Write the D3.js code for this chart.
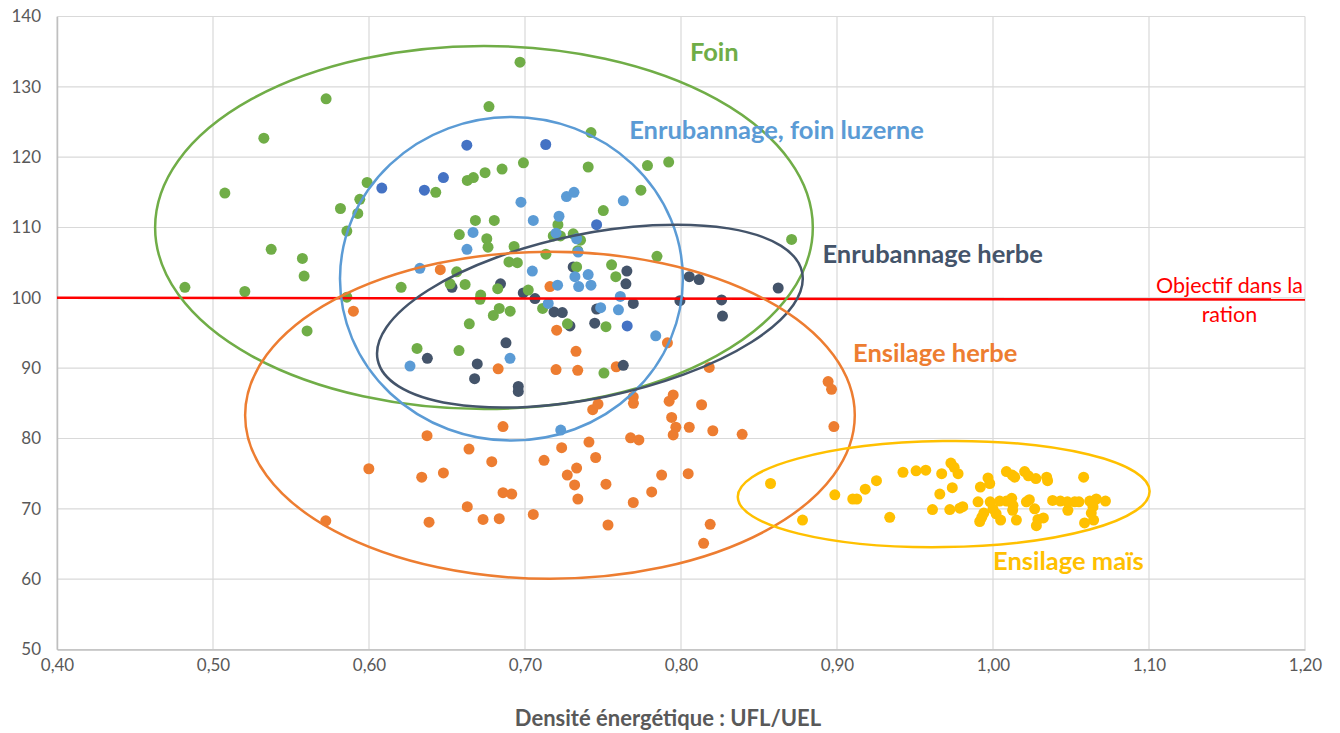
<!DOCTYPE html>
<html>
<head>
<meta charset="utf-8">
<script src="https://cdn.jsdelivr.net/npm/d3@7"></script>
<style>
  body { margin: 0; background: #fff; }
  svg { display: block; font-family: Lato, "Open Sans", sans-serif; }
</style>
</head>
<body>
<svg id="chart"></svg>
<script>
// values: [UFL/UEL, y]
const foin = [
  [0.5725,128.3],[0.5326,122.7],[0.5076,114.9],[0.5373,106.9],[0.5573,105.6],[0.5584,103.1],
  [0.4820,101.5],[0.5204,100.9],[0.5817,112.7],[0.5941,114.0],[0.5988,116.4],[0.5928,112.0],
  [0.5858,109.5],[0.6428,115.0],[0.6206,101.5],[0.5858,100.1],[0.5603,95.3],[0.6579,109.0],
  [0.6562,103.7],[0.6520,102.0],[0.6630,116.7],[0.6669,117.1],[0.6744,117.8],[0.6853,118.3],
  [0.6990,119.2],[0.6682,111.0],[0.6803,111.0],[0.6755,108.4],[0.6763,107.2],[0.6930,107.3],
  [0.6897,105.1],[0.6951,105.0],[0.6968,133.5],[0.6769,127.2],[0.7423,123.5],[0.7405,118.6],
  [0.7785,118.8],[0.7921,119.3],[0.7743,115.3],[0.7502,112.4],[0.7211,110.4],[0.7181,108.8],
  [0.7227,108.8],[0.7309,109.1],[0.7356,108.2],[0.7134,106.2],[0.7338,106.7],[0.7846,105.9],
  [0.7331,104.4],[0.7555,104.7],[0.7582,103.0],[0.6616,101.9],[0.6825,101.3],[0.7021,101.1],
  [0.6716,100.4],[0.6712,99.8],[0.7113,98.5],[0.6835,98.5],[0.6797,97.5],[0.6905,98.1],
  [0.6643,96.3],[0.7272,96.3],[0.7519,95.9],[0.6308,92.8],[0.6577,92.5],[0.7506,89.3],
  [0.8709,108.3]
];

const enrubannage = [
  [0.6326,104.2],[0.6974,113.6],[0.7053,111.0],[0.6667,109.3],[0.6628,106.9],[0.7047,103.8],
  [0.7266,114.4],[0.7314,115.0],[0.7630,113.8],[0.7218,111.6],[0.7199,109.2],[0.7331,108.4],
  [0.7341,106.5],[0.7320,103.0],[0.7405,103.3],[0.7344,101.6],[0.7423,101.8],[0.7209,101.8],
  [0.7611,100.2],[0.7149,99.2],[0.7485,98.6],[0.7599,98.3],[0.7838,94.6],[0.6904,91.4],
  [0.6263,90.3],[0.7229,81.2]
];

const foinLuzerne = [
  [0.6082,115.6],[0.6355,115.3],[0.6477,117.1],[0.6627,121.7],[0.7133,121.8],[0.7459,110.4],
  [0.7655,96.0]
];

const enrubannageHerbe = [
  [0.6532,101.5],[0.6843,102.0],[0.6989,100.7],[0.7064,99.9],[0.7309,104.4],[0.7653,103.8],
  [0.7647,102.0],[0.8053,103.0],[0.8116,102.6],[0.8623,101.4],[0.7694,99.2],[0.7993,99.6],
  [0.8260,99.7],[0.8266,97.4],[0.7186,98.0],[0.7239,97.9],[0.7459,98.4],[0.7288,96.0],
  [0.7447,96.4],[0.6878,93.6],[0.6374,91.4],[0.6694,90.6],[0.6677,88.5],[0.6957,87.4],
  [0.6957,86.7],[0.7630,90.4]
];

const ensilageHerbe = [
  [0.6457,104.0],[0.5900,98.1],[0.7160,101.6],[0.7203,95.4],[0.7913,93.6],[0.7327,92.4],
  [0.7199,89.8],[0.7338,89.7],[0.6828,89.9],[0.7585,90.2],[0.8181,90.1],[0.8943,88.1],
  [0.8965,87.0],[0.8980,81.7],[0.7434,84.1],[0.7468,84.9],[0.7694,85.9],[0.7695,85.0],
  [0.7924,85.3],[0.7950,86.2],[0.8132,84.8],[0.7940,83.0],[0.7967,81.6],[0.7950,80.5],
  [0.8053,81.6],[0.8204,81.1],[0.8392,80.6],[0.6859,81.7],[0.6641,78.5],[0.6787,76.7],
  [0.6477,75.1],[0.7122,76.9],[0.7235,78.7],[0.7410,79.5],[0.7453,77.3],[0.7331,75.8],
  [0.7271,74.8],[0.7318,73.4],[0.7339,71.4],[0.7519,73.5],[0.7677,80.1],[0.7730,79.8],
  [0.7876,74.8],[0.8046,75.0],[0.7812,72.4],[0.7694,70.9],[0.6859,72.3],[0.6915,72.1],
  [0.6630,70.3],[0.6731,68.5],[0.6835,68.6],[0.7053,69.2],[0.7532,67.7],[0.8187,67.8],
  [0.8145,65.1],[0.6372,80.4],[0.5999,75.7],[0.6338,74.5],[0.5723,68.3],[0.6385,68.1]
];

const ensilageMais = [
  [0.8574,73.6],[0.8779,68.4],[0.8986,72.0],[0.9101,71.4],[0.9127,71.4],[0.9181,72.8],
  [0.9253,74.0],[0.9338,68.8],[0.9423,75.2],[0.9507,75.4],[0.9569,75.5],[0.9612,69.9],
  [0.9659,72.1],[0.9671,75.0],[0.9730,76.5],[0.9751,75.9],[0.9776,75.0],[0.9739,73.0],
  [0.9723,69.9],[0.9787,70.1],[0.9806,70.3],[0.9904,71.0],[0.9919,73.1],[0.9968,74.4],
  [0.9979,73.6],[0.9915,68.2],[0.9928,68.8],[0.9941,69.4],[0.9982,71.0],[1.0000,70.0],
  [1.0020,69.3],[1.0049,68.4],[1.0043,71.1],[1.0086,71.1],[1.0120,71.5],[1.0128,70.5],
  [1.0126,69.8],[1.0150,68.4],[1.0086,75.3],[1.0123,74.8],[1.0139,74.5],[1.0203,75.3],
  [1.0227,74.7],[1.0275,74.3],[1.0344,74.5],[1.0350,74.0],[1.0581,74.5],[1.0214,71.0],
  [1.0233,71.3],[1.0267,70.0],[1.0288,68.5],[1.0323,68.7],[1.0278,67.6],[1.0382,71.2],
  [1.0432,71.1],[1.0477,71.0],[1.0524,71.0],[1.0551,71.0],[1.0480,69.8],[1.0620,71.1],
  [1.0662,71.4],[1.0721,71.1],[1.0641,70.3],[1.0630,69.4],[1.0587,68.0],[1.0645,68.4]
];

// objectif line
const objectif = [[0.40, 100.0], [1.20, 99.75]];

// ellipses: centre, half-width (UFL/UEL), half-height (y units), tilt in degrees
const groups = ["Foin", "Enrubannage, foin luzerne", "Enrubannage herbe", "Ensilage herbe", "Ensilage maïs"];
const ellipseCx = [0.6737, 0.6913, 0.7416, 0.7160, 0.9684];
const ellipseCy = [110.0, 102.7, 97.4, 83.3, 72.1];
const ellipseRx = [0.2108, 0.1099, 0.1389, 0.1954, 0.1320];
const ellipseRy = [25.8, 23.0, 11.66, 23.25, 7.54];
const ellipseTilt = [0, 0, -11.65, 0, -0.8];

const xTicks = [0.40, 0.50, 0.60, 0.70, 0.80, 0.90, 1.00, 1.10, 1.20];
const yTicks = [50, 60, 70, 80, 90, 100, 110, 120, 130, 140];

const W = 1340, H = 733;
const margin = { top: 16.5, right: 35, bottom: 83.5, left: 57 };

const svg = d3.select("#chart").attr("width", W).attr("height", H);

const x = d3.scaleLinear().domain([0.40, 1.20]).range([margin.left, W - margin.right]);
const y = d3.scaleLinear().domain([50, 140]).range([H - margin.bottom, margin.top]);

const grid = svg.append("g").attr("class", "grid");
grid.selectAll(".vg").data(xTicks).enter().append("line")
  .attr("x1", d => x(d)).attr("x2", d => x(d))
  .attr("y1", y(50)).attr("y2", y(140))
  .attr("stroke", "#d9d9d9").attr("stroke-width", 1.2);
grid.selectAll(".hg").data(yTicks).enter().append("line")
  .attr("x1", x(0.40)).attr("x2", x(1.20))
  .attr("y1", d => y(d)).attr("y2", d => y(d))
  .attr("stroke", "#d9d9d9").attr("stroke-width", 1.2);

const fmtX = d => d3.format(".2f")(d).replace(".", ",");

const xAxis = svg.append("g")
  .attr("transform", `translate(0,${y(50)})`)
  .call(d3.axisBottom(x).tickValues(xTicks).tickSize(0).tickPadding(9).tickFormat(fmtX));
const yAxis = svg.append("g")
  .attr("transform", `translate(${x(0.40)},0)`)
  .call(d3.axisLeft(y).tickValues(yTicks).tickSize(0).tickPadding(16).tickFormat(d3.format("d")));

[xAxis, yAxis].forEach(a => {
  a.select(".domain").attr("stroke", "#bfbfbf").attr("stroke-width", 1.5);
  a.selectAll("text").attr("fill", "#595959").attr("font-size", 17)
    .attr("font-family", "Lato, sans-serif");
});

svg.append("text")
  .attr("x", 668).attr("y", 726)
  .attr("text-anchor", "middle")
  .attr("fill", "#595959").attr("font-weight", "bold").attr("font-size", 22)
  .text("Densité énergétique : UFL/UEL");

// points
const series = [
  { data: ensilageHerbe, color: "#ed7d31" },
  { data: enrubannageHerbe, color: "#44546a" },
  { data: foin, color: "#70ad47" },
  { data: enrubannage, color: "#5b9bd5" },
  { data: foinLuzerne, color: "#4472c4" },
  { data: ensilageMais, color: "#ffc000" }
];

series.forEach(s => {
  svg.append("g").selectAll("circle").data(s.data).enter().append("circle")
    .attr("cx", d => x(d[0])).attr("cy", d => y(d[1]))
    .attr("r", 5.5).attr("fill", s.color);
});

// objectif line
svg.append("path")
  .datum(objectif)
  .attr("d", d3.line().x(d => x(d[0])).y(d => y(d[1])))
  .attr("stroke", "#ff0000").attr("stroke-width", 2.5).attr("fill", "none");

const objLabel = svg.append("text")
  .attr("text-anchor", "middle").attr("fill", "#ff0000").attr("font-size", 21.5);
objLabel.append("tspan").attr("x", x(1.1516)).attr("y", y(100.64)).text("Objectif dans la");
objLabel.append("tspan").attr("x", x(1.1516)).attr("y", y(96.6)).text("ration");

// ellipses
const ellipseColors = ["#70ad47", "#5b9bd5", "#44546a", "#ed7d31", "#ffc000"];
svg.append("g").selectAll("ellipse").data(groups).enter().append("ellipse")
  .attr("cx", (d, i) => x(ellipseCx[i]))
  .attr("cy", (d, i) => y(ellipseCy[i]))
  .attr("rx", (d, i) => x(ellipseCx[i] + ellipseRx[i]) - x(ellipseCx[i]))
  .attr("ry", (d, i) => y(ellipseCy[i] - ellipseRy[i]) - y(ellipseCy[i]))
  .attr("transform", (d, i) => `rotate(${ellipseTilt[i]},${x(ellipseCx[i])},${y(ellipseCy[i])})`)
  .attr("fill", "none")
  .attr("stroke", (d, i) => ellipseColors[i])
  .attr("stroke-width", 2.5);

// group labels
const labelX = [0.8057, 0.7668, 0.8907, 0.9103, 1.0000];
const labelY = [133.67, 122.54, 105.0, 90.9, 61.3];
const labelColors = ["#70ad47", "#5b9bd5", "#44546a", "#ed7d31", "#ffc000"];
svg.append("g").selectAll("text").data(groups).enter().append("text")
  .attr("x", (d, i) => x(labelX[i]))
  .attr("y", (d, i) => y(labelY[i]))
  .attr("fill", (d, i) => labelColors[i])
  .attr("font-weight", "bold")
  .attr("font-size", 25.5)
  .text(d => d);
</script>
</body>
</html>
